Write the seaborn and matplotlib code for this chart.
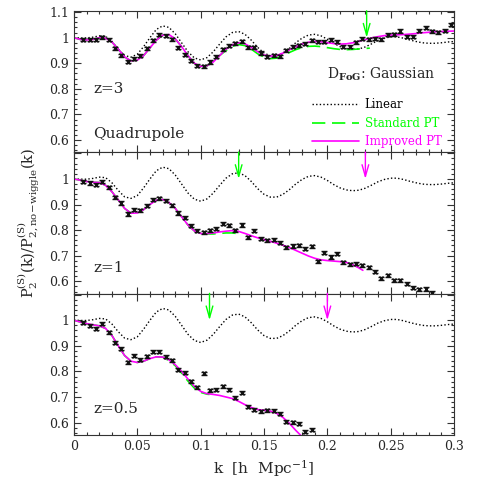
import numpy as np
import pandas as pd
import matplotlib
matplotlib.use("Agg")
import matplotlib.pyplot as plt
from matplotlib.lines import Line2D
from matplotlib.ticker import MultipleLocator, FuncFormatter
import seaborn as sns

# ---- data ----
# N-body points, bins of 0.005 starting at k=0.0075
k_pts_z3 = [0.0075 + 0.005 * i for i in range(59)]
p_z3 = [0.992, 0.991, 0.991, 1.002, 0.991, 0.959, 0.931, 0.906, 0.917, 0.929,
        0.958, 0.990, 1.011, 1.008, 0.994, 0.961, 0.933, 0.910, 0.890, 0.889,
        0.905, 0.925, 0.955, 0.969, 0.978, 0.985, 0.963, 0.962, 0.940, 0.926,
        0.932, 0.928, 0.951, 0.964, 0.971, 0.977, 0.990, 0.984, 0.984, 0.991,
        0.984, 0.965, 0.965, 0.982, 0.996, 0.994, 0.996, 0.994, 1.012, 1.013,
        1.026, 1.004, 1.004, 1.027, 1.039, 1.025, 1.021, 1.027, 1.050]

k_pts_z1 = [0.0075 + 0.005 * i for i in range(56)]
p_z1 = [0.989, 0.984, 0.977, 0.989, 0.967, 0.928, 0.906, 0.863, 0.880, 0.877,
        0.896, 0.919, 0.924, 0.914, 0.898, 0.867, 0.848, 0.818, 0.798, 0.791,
        0.799, 0.806, 0.825, 0.819, 0.799, 0.820, 0.773, 0.798, 0.767, 0.760,
        0.763, 0.751, 0.733, 0.738, 0.741, 0.727, 0.737, 0.678, 0.711, 0.695,
        0.708, 0.674, 0.666, 0.668, 0.662, 0.655, 0.638, 0.612, 0.623, 0.604,
        0.604, 0.590, 0.575, 0.569, 0.570, 0.555]

k_pts_z05 = [0.0075 + 0.005 * i for i in range(37)]
p_z05 = [0.990, 0.979, 0.966, 0.987, 0.953, 0.912, 0.888, 0.836, 0.862, 0.846,
         0.859, 0.877, 0.877, 0.857, 0.843, 0.807, 0.794, 0.762, 0.738, 0.792,
         0.727, 0.729, 0.742, 0.729, 0.697, 0.716, 0.662, 0.651, 0.645, 0.648,
         0.647, 0.634, 0.603, 0.602, 0.595, 0.565, 0.573]

err = {"z3": 0.006, "z1": 0.006, "z05": 0.006}

# linear theory (same in every panel)
k_lin = [0.005 * i for i in range(61)]
lin = [1.000, 0.999, 0.999, 1.002, 1.007, 1.005, 0.985, 0.955, 0.930, 0.924,
       0.935, 0.965, 1.000, 1.032, 1.046, 1.040, 1.015, 0.980, 0.945, 0.921,
       0.913, 0.922, 0.945, 0.975, 1.003, 1.020, 1.024, 1.013, 0.990, 0.962,
       0.940, 0.929, 0.929, 0.940, 0.958, 0.980, 0.998, 1.010, 1.013, 1.007,
       0.994, 0.978, 0.965, 0.957, 0.954, 0.956, 0.964, 0.976, 0.989, 0.998,
       1.003, 1.003, 0.998, 0.991, 0.985, 0.980, 0.978, 0.978, 0.980, 0.983,
       0.985]

# improved PT
k_imp_z3 = k_lin
imp_z3 = [1.000, 0.993, 0.991, 0.993, 1.000, 0.998, 0.983, 0.955, 0.925, 0.909,
          0.912, 0.930, 0.960, 0.990, 1.010, 1.012, 0.995, 0.965, 0.930, 0.900,
          0.888, 0.890, 0.905, 0.930, 0.955, 0.972, 0.980, 0.976, 0.962, 0.945,
          0.932, 0.928, 0.930, 0.940, 0.952, 0.965, 0.975, 0.982, 0.985, 0.984,
          0.980, 0.977, 0.975, 0.976, 0.980, 0.986, 0.993, 0.999, 1.004, 1.008,
          1.010, 1.011, 1.012, 1.014, 1.016, 1.019, 1.021, 1.023, 1.024, 1.025,
          1.026]
k_imp_z1 = [0.005 * i for i in range(46)] + [0.228]
imp_z1 = [1.000, 0.995, 0.990, 0.987, 0.986, 0.975, 0.950, 0.918, 0.885, 0.866,
          0.867, 0.880, 0.900, 0.917, 0.920, 0.908, 0.885, 0.852, 0.820, 0.797,
          0.787, 0.786, 0.789, 0.793, 0.796, 0.798, 0.795, 0.787, 0.778, 0.770,
          0.763, 0.756, 0.749, 0.741, 0.732, 0.721, 0.710, 0.699, 0.690, 0.684,
          0.681, 0.679, 0.677, 0.674, 0.665, 0.652, 0.643]
k_imp_z05 = [0.005 * i for i in range(37)]
imp_z05 = [1.000, 0.993, 0.987, 0.982, 0.978, 0.968, 0.940, 0.900, 0.862, 0.840,
           0.835, 0.840, 0.850, 0.857, 0.856, 0.845, 0.826, 0.800, 0.770, 0.742,
           0.722, 0.713, 0.710, 0.706, 0.700, 0.694, 0.683, 0.670, 0.659, 0.651,
           0.648, 0.645, 0.636, 0.620, 0.597, 0.570, 0.545]

# standard PT
k_std_z3 = [0.005 * i for i in range(47)] + [0.2335]
std_z3 = imp_z3[:24] + [0.950, 0.966, 0.973, 0.969, 0.955, 0.937, 0.924, 0.918,
                        0.920, 0.930, 0.942, 0.953, 0.961, 0.966, 0.967, 0.965,
                        0.961, 0.957, 0.954, 0.953, 0.954, 0.956, 0.958, 0.959]
k_std_z1 = [0.005 * i for i in range(27)]
std_z1 = imp_z1[:21] + [0.785, 0.785, 0.787, 0.789, 0.789, 0.786]
k_std_z05 = [0.005 * i for i in range(22)] + [0.107]
std_z05 = imp_z05[:15] + [0.842, 0.822, 0.793, 0.762, 0.735, 0.718, 0.711, 0.710]

# k_max arrows: (k, colour)
arrows_z3 = [(0.231, "std")]
arrows_z1 = [(0.130, "std"), (0.230, "imp")]
arrows_z05 = [(0.107, "std"), (0.200, "imp")]

GREEN = "#00ff00"
MAGENTA = "#ff00ff"
col = {"std": GREEN, "imp": MAGENTA}

sns.set_theme(style="ticks")
plt.rcParams["font.family"] = ["DejaVu Serif"]
plt.rcParams["mathtext.fontset"] = "dejavuserif"

fig, axes = plt.subplots(3, 1, figsize=(4.8, 4.8), dpi=100, sharex=True)
fig.subplots_adjust(left=0.154, right=0.946, top=0.977, bottom=0.094, hspace=0)

panels = [
    ("z3", "z=3", 0.800, k_pts_z3, p_z3, k_imp_z3, imp_z3, k_std_z3, std_z3, arrows_z3),
    ("z1", "z=1", 0.653, k_pts_z1, p_z1, k_imp_z1, imp_z1, k_std_z1, std_z1, arrows_z1),
    ("z05", "z=0.5", 0.655, k_pts_z05, p_z05, k_imp_z05, imp_z05, k_std_z05, std_z05, arrows_z05),
]

for i, (key, zlab, zy, kp, pp, ki, pi, ks, ps, arrs) in enumerate(panels):
    ax = axes[i]
    sns.lineplot(x=k_lin, y=lin, ax=ax, color="black", lw=1.0,
                 linestyle=(0, (1, 1.6)))
    sns.lineplot(x=ks, y=ps, ax=ax, color=GREEN, lw=1.2, linestyle=(0, (8, 4)))
    sns.lineplot(x=ki, y=pi, ax=ax, color=MAGENTA, lw=1.2)
    ax.errorbar(kp, pp, yerr=err[key], fmt="x", color="#111111", ms=3.2, mew=1.0,
                elinewidth=1.0, capsize=2.0, capthick=1.0, zorder=5)
    for ka, c in arrs:
        ax.annotate("", xy=(ka, 1.0), xytext=(ka, 1.105),
                    arrowprops=dict(arrowstyle="->,head_length=0.7,head_width=0.2",
                                    color=col[c], lw=1.0, shrinkA=0, shrinkB=0))
    ax.set_xlim(0, 0.3)
    ax.set_ylim(0.552, 1.104)
    ax.xaxis.set_major_locator(MultipleLocator(0.05))
    ax.xaxis.set_minor_locator(MultipleLocator(0.01))
    ax.yaxis.set_major_locator(MultipleLocator(0.1))
    ax.yaxis.set_minor_locator(MultipleLocator(0.02))
    ax.yaxis.set_major_formatter(FuncFormatter(
        lambda v, p, top=(i == 0): ("%g" % round(v, 2)) if (v < 1.05 or top) else ""))
    ax.xaxis.set_major_formatter(FuncFormatter(lambda v, p: "%g" % round(v, 2)))
    ax.tick_params(which="both", direction="in", top=True, right=True,
                   labelsize=9, width=0.8, color="#333333")
    ax.tick_params(which="major", length=5)
    ax.tick_params(which="minor", length=2.5)
    for s in ax.spines.values():
        s.set_linewidth(0.8)
        s.set_color("#333333")
    ax.text(0.015, zy, zlab, fontsize=11, va="center")

axes[0].text(0.015, 0.624, "Quadrupole", fontsize=11, va="center")
axes[0].text(0.2, 0.858, r"D$_{\mathbf{FoG}}$: Gaussian", fontsize=10, va="center")

handles = [Line2D([], [], color="black", lw=1.0, linestyle=(0, (1, 1.6))),
           Line2D([], [], color=GREEN, lw=1.2, linestyle=(0, (8, 4))),
           Line2D([], [], color=MAGENTA, lw=1.2)]
axes[0].legend(handles, ["Linear", "Standard PT", "Improved PT"],
               loc="lower right", bbox_to_anchor=(0.995, -0.045), frameon=False,
               fontsize=8.5, handlelength=4.0, handletextpad=0.5,
               labelspacing=0.45, labelcolor=["black", GREEN, MAGENTA])

axes[1].set_ylabel(r"$\mathrm{P_2^{(S)}(k)/P^{(S)}_{2,no\!-\!wiggle}(k)}$", fontsize=10.5,
                   labelpad=6)
axes[2].set_xlabel(r"k  [h  Mpc$^{-1}$]", fontsize=11)

fig.savefig("out.png", dpi=100)
